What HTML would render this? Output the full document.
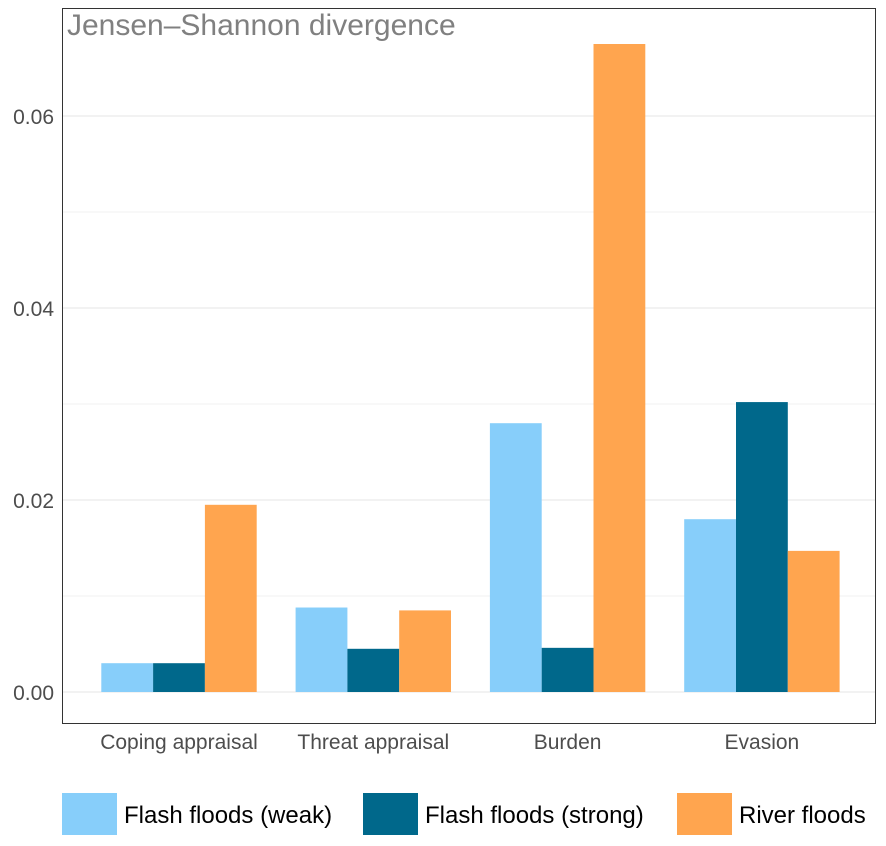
<!DOCTYPE html>
<html><head><meta charset="utf-8"><style>
html,body{margin:0;padding:0;background:#fff;}
svg{display:block;font-family:"Liberation Sans",sans-serif;}
</style></head><body>
<svg id="chart" width="886" height="846"></svg>
<script>
const categories = ["Coping appraisal","Threat appraisal","Burden","Evasion"];
const seriesNames = ["Flash floods (weak)","Flash floods (strong)","River floods"];
const weakValues = [0.0030,0.0088,0.0280,0.0180];
const strongValues = [0.0030,0.0045,0.0046,0.0302];
const riverValues = [0.0195,0.0085,0.0675,0.0147];
const yTicks = [0,0.02,0.04,0.06];
const yTickLabels = ["0.00","0.02","0.04","0.06"];
const yMinor = [0.01,0.03,0.05];

const NS="http://www.w3.org/2000/svg";
const svg=document.getElementById("chart");
const colors=["#87CEFA","#00688B","#FFA54F"];
const P={l:62,r:876,t:8,b:724};
const y0=692, pxPerUnit=9600;
function yScale(v){return y0 - v*pxPerUnit;}
const unit=194.3;
function xCenter(i){return 179+i*unit;}
const barW=51.8;
function mk(tag,attrs,parent){const e=document.createElementNS(NS,tag);for(const k in attrs)e.setAttribute(k,attrs[k]);(parent||svg).appendChild(e);return e;}

yMinor.forEach(v=>{const g=mk("line",{x1:P.l,x2:P.r,y1:yScale(v),y2:yScale(v),stroke:"#f0f0f0","stroke-width":1});

});
yTicks.forEach((v,i)=>{const g=mk("line",{x1:P.l,x2:P.r,y1:yScale(v),y2:yScale(v),stroke:"#e6e6e6","stroke-width":1});


const t=mk("text",{x:P.l-8,y:yScale(v)+8,"text-anchor":"end","font-size":21,fill:"#4d4d4d"});
t.textContent=yTickLabels[i];

});

const series=[weakValues,strongValues,riverValues];
series.forEach((vals,s)=>{vals.forEach((v,i)=>{
const x=xCenter(i)-1.5*barW+s*barW;
const r=mk("rect",{x:x,y:yScale(v),width:barW,height:y0-yScale(v),fill:colors[s]});

});});

categories.forEach((c,i)=>{const t=mk("text",{x:xCenter(i),y:749,"text-anchor":"middle","font-size":21,fill:"#4d4d4d"});
t.textContent=c;

});

const b=mk("rect",{x:P.l+0.5,y:P.t+0.5,width:P.r-P.l-1,height:P.b-P.t-1,fill:"none",stroke:"#333","stroke-width":1});



const ti=mk("text",{x:67,y:35,"font-size":30,fill:"#808080"});
ti.textContent="Jensen–Shannon divergence";



const legX=[62,363,677];
seriesNames.forEach((n,s)=>{
const r=mk("rect",{x:legX[s],y:793,width:55,height:42,fill:colors[s]});


const t=mk("text",{x:legX[s]+62,y:823,"font-size":24,fill:"#000"});
t.textContent=n;

});
</script>
</body></html>
